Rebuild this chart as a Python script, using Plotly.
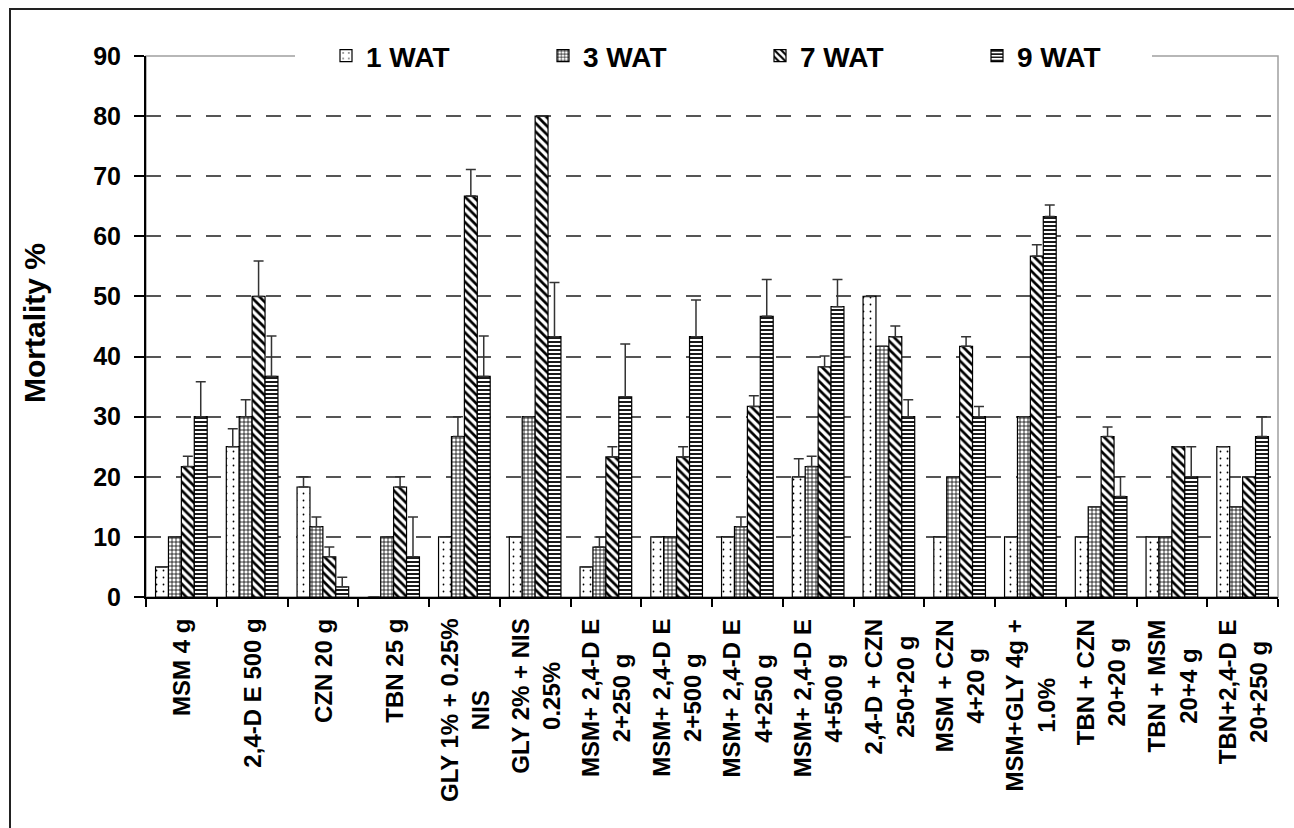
import plotly.graph_objects as go

# Treatments (rate per unit), shown as two-line category labels
treatments = [
    "MSM 4 g",
    "2,4-D E 500 g",
    "CZN 20 g",
    "TBN 25 g",
    "GLY 1% + 0.25%<br>NIS",
    "GLY 2% + NIS<br>0.25%",
    "MSM+ 2,4-D E<br>2+250 g",
    "MSM+ 2,4-D E<br>2+500 g",
    "MSM+ 2,4-D E<br>4+250 g",
    "MSM+ 2,4-D E<br>4+500 g",
    "2,4-D + CZN<br>250+20 g",
    "MSM + CZN<br>4+20 g",
    "MSM+GLY 4g +<br>1.0%",
    "TBN + CZN<br>20+20 g",
    "TBN + MSM<br>20+4 g",
    "TBN+2,4-D E<br>20+250 g",
]

series_names = ["1 WAT", "3 WAT", "7 WAT", "9 WAT"]

# Mortality % at each assessment (weeks after treatment)
wat1 = [5, 25, 18.3, 0, 10, 10, 5, 10, 10, 20, 50, 10, 10, 10, 10, 25]
wat3 = [10, 30, 11.7, 10, 26.7, 30, 8.3, 10, 11.7, 21.7, 41.7, 20, 30, 15, 10, 15]
wat7 = [21.7, 50, 6.7, 18.3, 66.7, 80, 23.3, 23.3, 31.7, 38.3, 43.3, 41.7, 56.7, 26.7, 25, 20]
wat9 = [30, 36.7, 1.7, 6.7, 36.7, 43.3, 33.3, 43.3, 46.7, 48.3, 30, 30, 63.3, 16.7, 20, 26.7]

# Standard errors (upper bars only)
err1 = [0, 3, 1.7, 0, 0, 0, 0, 0, 0, 3, 0, 0, 0, 0, 0, 0]
err3 = [0, 2.8, 1.6, 0, 3.3, 0, 1.7, 0, 1.6, 1.7, 0, 0, 0, 0, 0, 0]
err7 = [1.7, 5.9, 1.6, 1.7, 4.4, 0, 1.7, 1.7, 1.8, 1.8, 1.8, 1.6, 1.9, 1.6, 0, 0]
err9 = [5.8, 6.7, 1.6, 6.6, 6.7, 9.0, 8.8, 6.1, 6.1, 4.5, 2.8, 1.7, 1.9, 3.3, 5, 3.3]

y_ticks = [0, 10, 20, 30, 40, 50, 60, 70, 80, 90]

values = [wat1, wat3, wat7, wat9]
errors = [err1, err3, err7, err9]
patterns = [
    dict(shape=".", size=7, solidity=0.05),
    dict(shape="+", size=4, solidity=0.35),
    dict(shape="\\", size=6, solidity=0.45),
    dict(shape="-", size=4, solidity=0.45),
]

FONT = "Liberation Sans, Arial, sans-serif"

W, H = 1294, 828
L, R, T, B = 146, 16, 56, 231
pw, ph = W - L - R, H - T - B


def px_x(x):
    return (x - L) / pw


def px_y(y):
    return (H - B - y) / ph


fig = go.Figure()
for name, vals, errs, pat in zip(series_names, values, errors, patterns):
    fig.add_trace(go.Bar(
        name=name,
        x=treatments,
        y=vals,
        marker=dict(
            color="white",
            line=dict(color="black", width=1.2),
            pattern=dict(fgcolor="black", bgcolor="white", fillmode="replace", **pat),
        ),
        error_y=dict(type="data", symmetric=False, array=errs,
                     arrayminus=[0] * len(errs),
                     color="#333333", thickness=1.5, width=5),
    ))

# treatment labels under each group, rotated
annotations = []
for t in treatments:
    annotations.append(dict(
        x=t, xref="x", y=px_y(617), yref="paper",
        text=t, textangle=-90, showarrow=False,
        xanchor="center", yanchor="top", align="center",
        font=dict(family=FONT, size=24, color="black", weight="bold"),
    ))

annotations.append(dict(
    x=px_x(34), xref="paper", y=px_y(323), yref="paper",
    text="Mortality %", textangle=-90, showarrow=False,
    xanchor="center", yanchor="middle",
    font=dict(family=FONT, size=30, color="black", weight="bold"),
))

shapes = [
    # plot-area frame
    dict(type="rect", xref="paper", yref="paper", x0=0, x1=1, y0=0, y1=1,
         line=dict(color="#a0a0a0", width=1.5), layer="below"),
    # white band behind the legend
    dict(type="rect", xref="paper", yref="paper",
         x0=px_x(295), x1=px_x(1152), y0=px_y(70), y1=px_y(42),
         fillcolor="white", line=dict(width=0), layer="above"),
    # outer chart border
    dict(type="rect", xref="paper", yref="paper",
         x0=px_x(10), x1=px_x(1310), y0=px_y(845), y1=px_y(9),
         line=dict(color="#222222", width=2), layer="above"),
]

fig.update_layout(
    width=W, height=H,
    margin=dict(l=L, r=R, t=T, b=B, pad=0),
    paper_bgcolor="white", plot_bgcolor="white",
    barmode="group", bargap=0.27, bargroupgap=0,
    font=dict(family=FONT, color="black"),
    showlegend=True,
    legend=dict(
        orientation="h", x=px_x(326), xanchor="left", y=1.0, yanchor="middle",
        bgcolor="rgba(0,0,0,0)", borderwidth=0,
        entrywidth=172, entrywidthmode="pixels",
        font=dict(family=FONT, size=28, color="black", weight="bold"),
        traceorder="normal",
    ),
    annotations=annotations,
    shapes=shapes,
)

fig.update_xaxes(
    type="category", tickson="boundaries", ticks="outside", ticklen=8,
    tickwidth=2, tickcolor="black", showticklabels=False,
    showline=True, linecolor="black", linewidth=2, showgrid=False,
    range=[-0.5, len(treatments) - 0.5],
)

fig.update_yaxes(
    range=[0, 90], tickvals=y_ticks, ticks="outside", ticklen=10,
    tickwidth=2, tickcolor="black",
    showline=True, linecolor="black", linewidth=2,
    showgrid=True, gridcolor="#555555", gridwidth=1.5, griddash="15px,15px",
    zeroline=False, ticklabelstandoff=8,
    tickfont=dict(family=FONT, size=25, color="black", weight="bold"),
)

fig.write_html("out.html")
